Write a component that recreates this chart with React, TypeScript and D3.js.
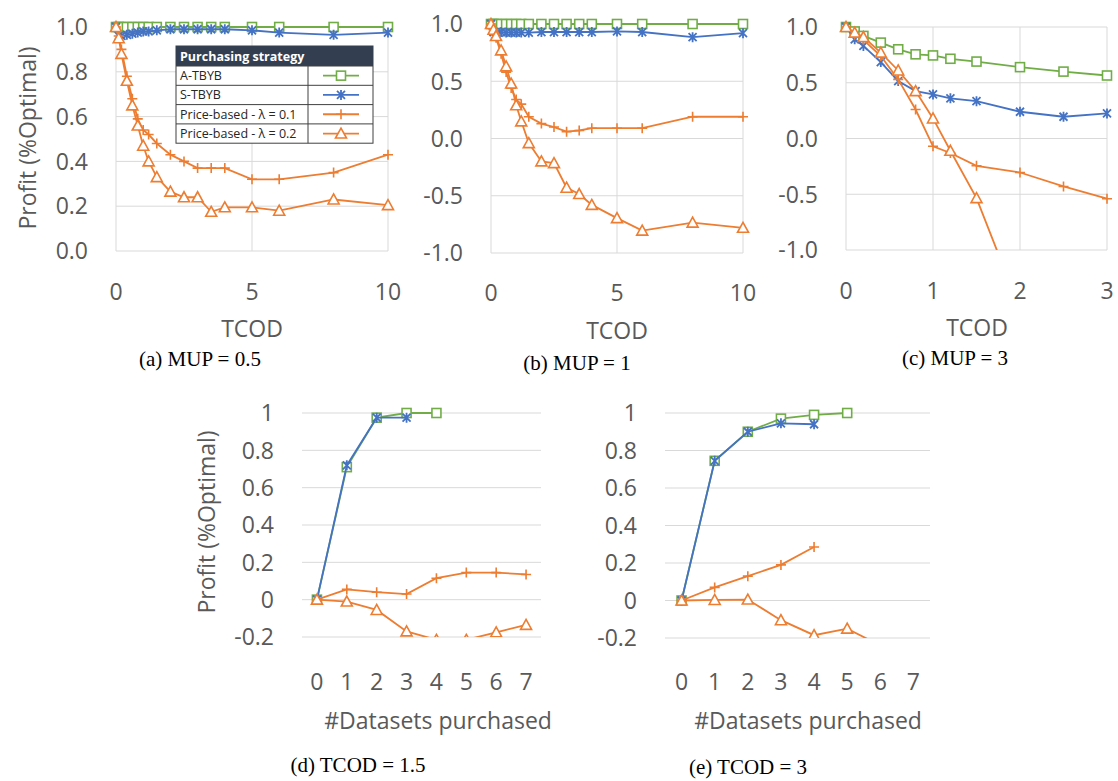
import * as d3 from 'd3';

// ---- data ----
const tcodAB = [0, 0.1, 0.2, 0.4, 0.6, 0.8, 1, 1.2, 1.5, 2, 2.5, 3, 3.5, 4, 5, 6, 8, 10];
const tcodC = [0, 0.1, 0.2, 0.4, 0.6, 0.8, 1, 1.2, 1.5, 2, 2.5, 3];
const datasets = [0, 1, 2, 3, 4, 5, 6, 7];

const aATBYB = [1, 1, 1, 1, 1, 1, 1, 1, 1, 1, 1, 1, 1, 1, 1, 1, 1, 1];
const aSTBYB = [1.0, 0.96, 0.96, 0.965, 0.97, 0.975, 0.98, 0.98, 0.985, 0.99, 0.99, 0.99, 0.99, 0.99, 0.985, 0.975, 0.965, 0.975];
const aPB01 = [1.0, 0.96, 0.9, 0.78, 0.68, 0.59, 0.54, 0.52, 0.48, 0.43, 0.4, 0.37, 0.37, 0.37, 0.32, 0.32, 0.35, 0.43];
const aPB02 = [1.0, 0.95, 0.88, 0.76, 0.65, 0.56, 0.47, 0.4, 0.33, 0.265, 0.24, 0.24, 0.175, 0.195, 0.195, 0.18, 0.23, 0.205];

const bATBYB = [1, 1, 1, 1, 1, 1, 1, 1, 1, 1, 1, 1, 1, 1, 1, 1, 1, 1];
const bSTBYB = [1.0, 0.93, 0.93, 0.93, 0.925, 0.925, 0.925, 0.925, 0.925, 0.93, 0.93, 0.93, 0.93, 0.93, 0.935, 0.93, 0.885, 0.92];
const bPB01 = [1.0, 0.95, 0.88, 0.74, 0.58, 0.44, 0.34, 0.3, 0.19, 0.13, 0.1, 0.06, 0.07, 0.09, 0.09, 0.09, 0.19, 0.19];
const bPB02 = [1.0, 0.95, 0.895, 0.77, 0.63, 0.48, 0.29, 0.15, -0.04, -0.2, -0.215, -0.43, -0.485, -0.58, -0.695, -0.805, -0.735, -0.78];

const cATBYB = [1.0, 0.96, 0.92, 0.86, 0.8, 0.755, 0.745, 0.715, 0.69, 0.64, 0.6, 0.565];
const cSTBYB = [1.0, 0.89, 0.83, 0.685, 0.515, 0.425, 0.395, 0.36, 0.335, 0.24, 0.195, 0.225];
const cPB01 = [1.0, 0.93, 0.885, 0.74, 0.53, 0.26, -0.07, -0.13, -0.245, -0.305, -0.43, -0.54];
const cPB02 = [1.0, 0.95, 0.91, 0.77, 0.61, 0.425, 0.18, -0.11, -0.535, -1.53];

const dATBYB = [0, 0.71, 0.975, 1.0, 1.0];
const dSTBYB = [0, 0.72, 0.975, 0.975];
const dPB01 = [0, 0.055, 0.04, 0.03, 0.115, 0.145, 0.145, 0.135];
const dPB02 = [0, -0.01, -0.055, -0.17, -0.215, -0.215, -0.175, -0.135];

const eATBYB = [0, 0.745, 0.9, 0.97, 0.99, 1.0];
const eSTBYB = [0, 0.745, 0.9, 0.945, 0.94];
const ePB01 = [0, 0.07, 0.13, 0.19, 0.285];
const ePB02 = [0, 0.003, 0.005, -0.105, -0.185, -0.15, -0.24];

const seriesNames = ['A-TBYB', 'S-TBYB', 'Price-based - λ = 0.1', 'Price-based - λ = 0.2'];
const seriesColors = ['#70ad47', '#4472c4', '#ed7d31', '#ed7d31'];
const seriesMarkers = ['square', 'star', 'plus', 'triangle'];

const yTicksUnit = [0, 0.2, 0.4, 0.6, 0.8, 1];
const yTicksWide = [-1, -0.5, 0, 0.5, 1];
const yTicksBottom = [-0.2, 0, 0.2, 0.4, 0.6, 0.8, 1];

const FONT = "'Open Sans', sans-serif";
const TXT = '#595959';
const GRID = '#d9d9d9';

function Marker({ kind, color, x, y }: { kind: string; color: string; x: number; y: number }) {
  if (kind === 'square')
    return <rect x={x - 4.5} y={y - 4.5} width={9} height={9} fill="#fff" stroke={color} strokeWidth={1.6} />;
  if (kind === 'star')
    return (
      <path
        d={`M${x - 4},${y - 4}L${x + 4},${y + 4}M${x - 4},${y + 4}L${x + 4},${y - 4}M${x},${y - 5}L${x},${y + 5}`}
        stroke={color}
        strokeWidth={1.8}
        fill="none"
      />
    );
  if (kind === 'plus')
    return <path d={`M${x - 5},${y}L${x + 5},${y}M${x},${y - 5}L${x},${y + 5}`} stroke={color} strokeWidth={1.6} />;
  return (
    <path
      d={`M${x},${y - 5.5}L${x + 5.5},${y + 4.5}L${x - 5.5},${y + 4.5}Z`}
      fill="#fff"
      stroke={color}
      strokeWidth={1.6}
    />
  );
}

type PanelProps = {
  id: string;
  xs: number[];
  series: number[][];
  left: number;
  right: number;
  top: number;
  bottom: number;
  band?: boolean;
  xDomain?: [number, number];
  xTicks: number[];
  yDomain: [number, number];
  yTicks: number[];
  yFmt: (v: number) => string;
  xTitle: string;
  xTitleX: number;
  xTitleY: number;
  xTickY: number;
  box: boolean;
};

function Panel(p: PanelProps) {
  const y = d3.scaleLinear().domain(p.yDomain).range([p.bottom, p.top]);
  let xPos: (v: number) => number;
  if (p.band) {
    const xb = d3.scaleBand<number>().domain(datasets).range([p.left, p.right]).padding(0);
    xPos = (v) => (xb(v) as number) + xb.bandwidth() / 2;
  } else {
    const xl = d3.scaleLinear().domain(p.xDomain as [number, number]).range([p.left, p.right]);
    xPos = (v) => xl(v);
  }
  const line = d3
    .line<[number, number]>()
    .x((d) => xPos(d[0]))
    .y((d) => y(d[1]));
  const clipId = `clip-${p.id}`;
  return (
    <g>
      <defs>
        <clipPath id={clipId}>
          <rect x={p.left - 8} y={p.top - 8} width={p.right - p.left + 16} height={p.bottom - p.top + 8} />
        </clipPath>
      </defs>
      {p.yTicks.map((t) => (
        <line key={'h' + t} x1={p.left} x2={p.right} y1={y(t)} y2={y(t)} stroke={GRID} strokeWidth={1} />
      ))}
      {p.box &&
        p.xTicks.map((t) => (
          <line key={'v' + t} x1={xPos(t)} x2={xPos(t)} y1={p.top} y2={p.bottom} stroke={GRID} strokeWidth={1} />
        ))}
      {p.yTicks.map((t) => (
        <text
          key={'yl' + t}
          x={p.left - 28}
          y={y(t)}
          dy="0.36em"
          textAnchor="end"
          fontFamily={FONT}
          fontSize={23}
          fill={TXT}
        >
          {p.yFmt(t)}
        </text>
      ))}
      {p.xTicks.map((t) => (
        <text
          key={'xl' + t}
          x={xPos(t)}
          y={p.xTickY}
          dy="0.36em"
          textAnchor="middle"
          fontFamily={FONT}
          fontSize={23}
          fill={TXT}
        >
          {t}
        </text>
      ))}
      <text x={p.xTitleX} y={p.xTitleY} dy="0.36em" textAnchor="middle" fontFamily={FONT} fontSize={23} fill={TXT}>
        {p.xTitle}
      </text>
      <g clipPath={`url(#${clipId})`}>
        {p.series.map((vals, si) => {
          const pts = vals.map((v, i) => [p.xs[i], v] as [number, number]);
          return (
            <g key={si}>
              <path d={line(pts) || ''} fill="none" stroke={seriesColors[si]} strokeWidth={1.8} />
              {pts.map((d, i) =>
                d[1] < p.yDomain[0] - 0.02 ? null : (
                  <Marker key={i} kind={seriesMarkers[si]} color={seriesColors[si]} x={xPos(d[0])} y={y(d[1])} />
                )
              )}
            </g>
          );
        })}
      </g>
    </g>
  );
}

function Legend({ x, y }: { x: number; y: number }) {
  const w = 197;
  const colX = 132;
  const headH = 20;
  const rowH = 19.3;
  return (
    <g transform={`translate(${x},${y})`}>
      <rect x={0} y={0} width={w} height={headH + rowH * 4} fill="#fff" stroke="#404040" strokeWidth={1} />
      <rect x={0} y={0} width={w} height={headH} fill="#333f50" />
      <text x={4} y={headH / 2} dy="0.36em" fontFamily={FONT} fontSize={12.5} fontWeight={700} fill="#fff">
        Purchasing strategy
      </text>
      <line x1={colX} x2={colX} y1={headH} y2={headH + rowH * 4} stroke="#404040" strokeWidth={1} />
      {seriesNames.map((n, i) => {
        const ry = headH + rowH * i;
        const cy = ry + rowH / 2;
        return (
          <g key={n}>
            <line x1={0} x2={w} y1={ry} y2={ry} stroke="#404040" strokeWidth={1} />
            <text x={4} y={cy} dy="0.36em" fontFamily={FONT} fontSize={12.5} fill="#262626">
              {n}
            </text>
            <line x1={colX + 15} x2={colX + 51} y1={cy} y2={cy} stroke={seriesColors[i]} strokeWidth={1.8} />
            <Marker kind={seriesMarkers[i]} color={seriesColors[i]} x={colX + 33} y={cy} />
          </g>
        );
      })}
    </g>
  );
}

const fmt1 = (v: number) => v.toFixed(1);
const fmtG = (v: number) => String(+v.toFixed(1));

function Caption({ x, y, text }: { x: number; y: number; text: string }) {
  return (
    <text x={x} y={y} textAnchor="middle" fontFamily="'Liberation Serif', 'Times New Roman', serif" fontSize={21} fill="#000">
      {text}
    </text>
  );
}

function YTitle({ x, y }: { x: number; y: number }) {
  return (
    <text
      transform={`translate(${x},${y}) rotate(-90)`}
      dy="0.36em"
      textAnchor="middle"
      fontFamily={FONT}
      fontSize={23}
      fill={TXT}
    >
      Profit (%Optimal)
    </text>
  );
}

export default function App() {
  return (
    <svg width={1118} height={781} style={{ position: 'absolute', left: 0, top: 0, background: '#fff' }}>
      <YTitle x={28} y={138} />
      <Panel
        id="a"
        xs={tcodAB}
        series={[aATBYB, aSTBYB, aPB01, aPB02]}
        left={116}
        right={388}
        top={27}
        bottom={251}
        xDomain={[0, 10]}
        xTicks={[0, 5, 10]}
        yDomain={[0, 1]}
        yTicks={yTicksUnit}
        yFmt={fmt1}
        xTitle="TCOD"
        xTitleX={252}
        xTitleY={329}
        xTickY={292}
        box
      />
      <Legend x={176} y={46} />
      <Panel
        id="b"
        xs={tcodAB}
        series={[bATBYB, bSTBYB, bPB01, bPB02]}
        left={491}
        right={743}
        top={24}
        bottom={253}
        xDomain={[0, 10]}
        xTicks={[0, 5, 10]}
        yDomain={[-1, 1]}
        yTicks={yTicksWide}
        yFmt={fmt1}
        xTitle="TCOD"
        xTitleX={617}
        xTitleY={331}
        xTickY={293}
        box
      />
      <Panel
        id="c"
        xs={tcodC}
        series={[cATBYB, cSTBYB, cPB01, cPB02]}
        left={846}
        right={1107}
        top={27}
        bottom={250}
        xDomain={[0, 3]}
        xTicks={[0, 1, 2, 3]}
        yDomain={[-1, 1]}
        yTicks={yTicksWide}
        yFmt={fmt1}
        xTitle="TCOD"
        xTitleX={977}
        xTitleY={328}
        xTickY={291}
        box
      />
      <Caption x={200} y={366} text="(a) MUP = 0.5" />
      <Caption x={577} y={370} text="(b) MUP = 1" />
      <Caption x={955} y={365} text="(c) MUP = 3" />

      <YTitle x={207} y={522} />
      <Panel
        id="d"
        xs={datasets}
        series={[dATBYB, dSTBYB, dPB01, dPB02]}
        left={302}
        right={541}
        top={413}
        bottom={637}
        band
        xTicks={datasets}
        yDomain={[-0.2, 1]}
        yTicks={yTicksBottom}
        yFmt={fmtG}
        xTitle="#Datasets purchased"
        xTitleX={438}
        xTitleY={721}
        xTickY={682}
        box={false}
      />
      <Panel
        id="e"
        xs={datasets}
        series={[eATBYB, eSTBYB, ePB01, ePB02]}
        left={665}
        right={930}
        top={413}
        bottom={638}
        band
        xTicks={datasets}
        yDomain={[-0.2, 1]}
        yTicks={yTicksBottom}
        yFmt={fmtG}
        xTitle="#Datasets purchased"
        xTitleX={808}
        xTitleY={721}
        xTickY={682}
        box={false}
      />
      <Caption x={358} y={772} text="(d) TCOD = 1.5" />
      <Caption x={748} y={774} text="(e) TCOD = 3" />
    </svg>
  );
}
